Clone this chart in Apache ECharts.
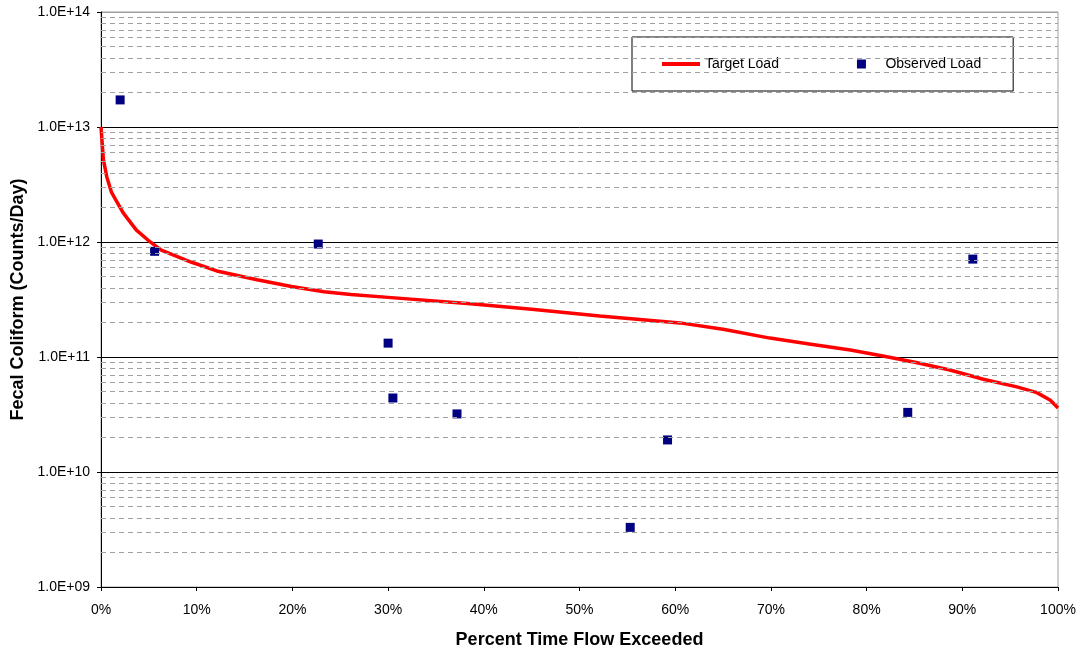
<!DOCTYPE html>
<html>
<head>
<meta charset="utf-8">
<script src="https://cdn.jsdelivr.net/npm/echarts@6/dist/echarts.min.js"></script>
<style>
  html, body { margin: 0; padding: 0; background: #fff; }
  #chart { width: 1081px; height: 657px; }
</style>
</head>
<body>
<div id="chart"></div>
<script>
// target load curve (percent time flow exceeded, counts/day)
var targetPct = [0, 0.25, 0.6, 1.1, 2.3, 3.7, 4.9, 6.3, 9.4, 12.1, 16.3, 19.9, 23.3, 26.1, 30, 38.6, 45,
    52.1, 60.5, 65, 69.9, 74, 78.3, 81.7, 85.3, 88.7, 92.2, 95.7, 97.8, 99.2, 100];
var targetLoad = [1.0e13, 5.2e12, 3.7e12, 2.7e12, 1.8e12, 1.27e12, 1.04e12, 8.5e11, 6.7e11, 5.6e11, 4.7e11,
    4.1e11, 3.7e11, 3.5e11, 3.3e11, 2.9e11, 2.6e11, 2.27e11, 1.98e11, 1.74e11, 1.46e11, 1.3e11, 1.15e11, 1.02e11,
    8.9e10, 7.7e10, 6.4e10, 5.5e10, 4.9e10, 4.2e10, 3.6e10];

// observed loads
var obsPct = [2.0, 5.6, 22.7, 30.0, 30.5, 37.2, 55.3, 59.2, 84.3, 91.1];
var obsLoad = [1.72e13, 8.3e11, 9.6e11, 1.32e11, 4.4e10, 3.2e10, 3.3e9, 1.9e10, 3.3e10, 7.1e11];

// minor gridlines inside each decade
var decades = [1e9, 1e10, 1e11, 1e12, 1e13];
var minorSteps = [2, 3, 4, 5, 6, 7, 8, 9];

var myChart = echarts.init(document.getElementById('chart'));

var minorLines = [];
decades.forEach(function (d) {
    minorSteps.forEach(function (m) {
        minorLines.push({ yAxis: d * m });
    });
});

var font = 'Liberation Sans, Arial, sans-serif';

option = {
    backgroundColor: '#fff',
    animation: false,
    grid: {
        left: 101,
        right: 23,
        top: 12,
        bottom: 70,
        show: true,
        borderColor: '#a0a0a0',
        borderWidth: 1
    },
    legend: {
        left: 632,
        top: 37,
        padding: [20, 32, 20, 30],
        itemGap: 78,
        itemWidth: 38,
        itemHeight: 9,
        symbolKeepAspect: true,
        borderColor: '#000',
        borderWidth: 1,
        backgroundColor: '#fff',
        textStyle: { fontSize: 14, color: '#000', fontFamily: font },
        data: [
            { name: 'Target Load', icon: 'path://M0,0H38V4H0Z', itemStyle: { color: '#ff0000' } },
            { name: 'Observed Load', icon: 'path://M0,0H10V10H0Z' }
        ]
    },
    xAxis: {
        type: 'value',
        min: 0,
        max: 100,
        interval: 10,
        name: 'Percent Time Flow Exceeded',
        nameLocation: 'middle',
        nameGap: 44,
        nameTextStyle: { fontSize: 18, fontWeight: 'bold', color: '#000', fontFamily: font },
        axisLine: { lineStyle: { color: '#000', width: 1 } },
        axisTick: { show: true, inside: false, length: 4, lineStyle: { color: '#000' } },
        axisLabel: {
            formatter: '{value}%',
            fontSize: 14,
            color: '#000',
            margin: 16,
            fontFamily: font
        },
        splitLine: { show: false }
    },
    yAxis: {
        type: 'log',
        logBase: 10,
        min: 1e9,
        max: 1e14,
        name: 'Fecal Coliform (Counts/Day)',
        nameLocation: 'middle',
        nameGap: 72,
        nameTextStyle: { fontSize: 18, fontWeight: 'bold', color: '#000', fontFamily: font },
        axisLine: { show: true, lineStyle: { color: '#000', width: 1 } },
        axisTick: { show: true, inside: false, length: 4, lineStyle: { color: '#000' } },
        axisLabel: {
            fontSize: 14,
            color: '#000',
            margin: 11,
            fontFamily: font,
            formatter: function (v) {
                var e = Math.round(Math.log10(v));
                return '1.0E+' + (e < 10 ? '0' + e : e);
            }
        },
        splitLine: {
            show: true,
            lineStyle: { color: ['#000', '#000', '#000', '#000', '#000', '#000', '#a0a0a0'], width: 1 }
        }
    },
    series: [
        {
            name: 'grid',
            type: 'line',
            z: 1,
            silent: true,
            data: [],
            markLine: {
                silent: true,
                symbol: 'none',
                label: { show: false },
                lineStyle: { color: '#a0a0a0', type: [5, 4], width: 1 },
                data: minorLines
            }
        },
        {
            name: 'Target Load',
            type: 'line',
            z: 3,
            showSymbol: false,
            symbol: 'none',
            smooth: false,
            lineStyle: { color: '#ff0000', width: 3.5 },
            itemStyle: { color: '#ff0000' },
            data: targetPct.map(function (x, i) { return [x, targetLoad[i]]; })
        },
        {
            name: 'Observed Load',
            type: 'scatter',
            z: 4,
            symbol: 'rect',
            symbolSize: 9,
            itemStyle: { color: '#000080', opacity: 1 },
            data: obsPct.map(function (x, i) { return [x, obsLoad[i]]; })
        }
    ]
};

myChart.setOption(option);
</script>
</body>
</html>
